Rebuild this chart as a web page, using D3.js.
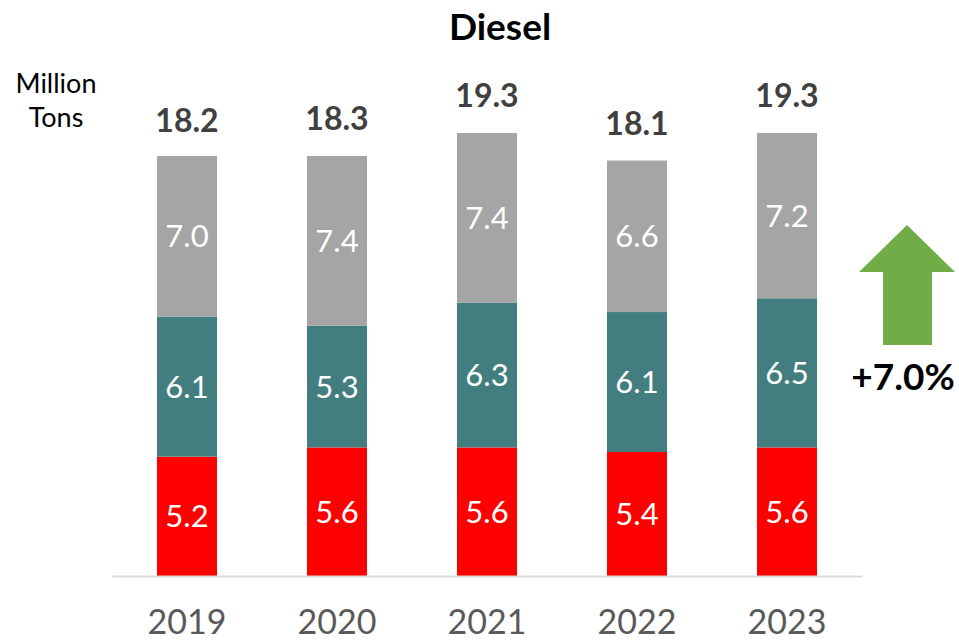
<!DOCTYPE html>
<html>
  <head>
    <script src="https://d3js.org/d3.v7.min.js"></script>
    <style>
      body { margin: 0; background: #ffffff; font-family: "Lato", sans-serif; }
    </style>
  </head>
  <body>
    <svg id="chart" width="959" height="643"></svg>
    <script>
      var years = ["2019", "2020", "2021", "2022", "2023"];
      var bottomSeg = [5.2, 5.6, 5.6, 5.4, 5.6];
      var middleSeg = [6.1, 5.3, 6.3, 6.1, 6.5];
      var topSeg = [7.0, 7.4, 7.4, 6.6, 7.2];
      var totals = [18.2, 18.3, 19.3, 18.1, 19.3];
      var colors = ["#ff0000", "#427e80", "#a5a5a5"];
      var growthLabel = "+7.0%";

      var svg = d3.select("#chart");
      var baseY = 576;

      var rows = years.map((y, i) => ({
        year: y, s0: bottomSeg[i], s1: middleSeg[i], s2: topSeg[i], total: totals[i]
      }));
      var stacked = d3.stack().keys(["s0", "s1", "s2"])(rows);

      var x = d3.scaleBand().domain(years).range([112, 862]).paddingInner(0.6).paddingOuter(0.3);
      var y = d3.scaleLinear().domain([0, 19.3]).range([baseY, 133]);

      // title
      svg.append("text")
        .attr("x", 500).attr("y", 40)
        .attr("text-anchor", "middle")
        .style("font-size", "37px").style("font-weight", "bold").style("fill", "#000")
        .text("Diesel");

      // unit label
      svg.append("text").attr("x", 56).attr("y", 93).attr("text-anchor", "middle")
        .style("font-size", "27px").style("fill", "#000").text("Million");
      svg.append("text").attr("x", 56).attr("y", 127).attr("text-anchor", "middle")
        .style("font-size", "27px").style("fill", "#000").text("Tons");

      // bars
      var layers = svg.selectAll("g.layer").data(stacked).enter().append("g")
        .attr("class", "layer").style("fill", (d, i) => colors[i]);

      layers.selectAll("rect").data(d => d).enter().append("rect")
        .attr("x", d => x(d.data.year))
        .attr("width", x.bandwidth())
        .attr("y", d => y(d[1]))
        .attr("height", d => y(d[0]) - y(d[1]));

      layers.selectAll("text").data(d => d).enter().append("text")
        .attr("x", d => x(d.data.year) + x.bandwidth() / 2)
        .attr("y", d => (y(d[0]) + y(d[1])) / 2 + 11)
        .attr("text-anchor", "middle")
        .style("fill", "#ffffff").style("font-size", "31px")
        .text(d => (d[1] - d[0]).toFixed(1));

      // totals
      svg.selectAll("text.total").data(rows).enter().append("text")
        .attr("class", "total")
        .attr("x", d => x(d.year) + x.bandwidth() / 2)
        .attr("y", d => y(d.total) - 26)
        .attr("text-anchor", "middle")
        .style("font-size", "32px").style("font-weight", "bold").style("fill", "#404040")
        .text(d => d.total.toFixed(1));

      // axis
      var xAxis = svg.append("g").attr("transform", "translate(0," + baseY + ")")
        .call(d3.axisBottom(x).tickSize(0).tickPadding(34));
      xAxis.select(".domain").style("stroke", "#d9d9d9").style("stroke-width", "2px");
      xAxis.selectAll("text").style("font-family", "Lato").style("font-size", "34px").style("fill", "#595959");

      // growth arrow
      var arrow = [[907, 225], [955, 272], [932, 272], [932, 345], [883, 345], [883, 272], [859, 272]];
      svg.append("path")
        .attr("d", d3.line()(arrow) + "Z")
        .style("fill", "#70ad47");
      svg.append("text").attr("x", 903).attr("y", 390).attr("text-anchor", "middle")
        .style("font-size", "37px").style("font-weight", "bold").style("fill", "#000")
        .text(growthLabel);
    </script>
  </body>
</html>
